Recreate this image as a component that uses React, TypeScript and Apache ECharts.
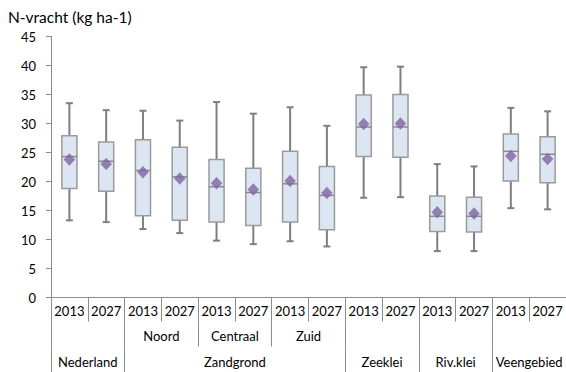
import React, { useEffect, useRef } from "react";
import * as echarts from "echarts";

// Year per column, and the two grouping rows below it
const years = ["2013", "2027", "2013", "2027", "2013", "2027", "2013", "2027", "2013", "2027", "2013", "2027", "2013", "2027"];
const subRegions = ["", "Noord", "Centraal", "Zuid", "", "", ""];
const regions = ["Nederland", "", "Zandgrond", "", "Zeeklei", "Riv.klei", "Veengebied"];
// indices in the 7-slot row whose left edge starts a new region
const regionStarts = [0, 1, 4, 5, 6];

// N-load statistics (kg ha-1) per column
const minVals = [13.3, 13.0, 11.8, 11.1, 9.8, 9.2, 9.7, 8.8, 17.2, 17.3, 8.0, 8.0, 15.4, 15.2];
const q1Vals = [18.8, 18.3, 14.1, 13.3, 13.0, 12.4, 13.0, 11.7, 24.3, 24.2, 11.4, 11.3, 20.1, 19.8];
const medianVals = [24.3, 23.5, 21.9, 20.8, 19.1, 18.1, 19.6, 17.6, 29.4, 29.4, 14.0, 14.0, 25.2, 24.7];
const q3Vals = [27.9, 26.8, 27.2, 25.9, 23.8, 22.3, 25.2, 22.6, 34.9, 35.0, 17.5, 17.3, 28.2, 27.7];
const maxVals = [33.5, 32.3, 32.2, 30.5, 33.7, 31.7, 32.8, 29.6, 39.7, 39.8, 23.0, 22.6, 32.7, 32.1];
const meanVals = [23.8, 23.0, 21.6, 20.5, 19.7, 18.6, 20.1, 18.0, 29.9, 30.0, 14.7, 14.5, 24.4, 23.9];

const FONT = "Lato, 'Open Sans', sans-serif";
const AXIS_GRAY = "#8c8c8c";

export default function App() {
  const ref = useRef<HTMLDivElement>(null);

  useEffect(() => {
    if (!ref.current) return;
    const chart = echarts.init(ref.current, undefined, { renderer: "svg" });

    const boxData = years.map((_, i) => [i, minVals[i], q1Vals[i], medianVals[i], q3Vals[i], maxVals[i]]);
    const meanData = years.map((_, i) => [i, meanVals[i]]);

    const axisLabelBase = { color: "#000", fontSize: 13, fontFamily: FONT };

    chart.setOption({
      animation: false,
      textStyle: { fontFamily: FONT },
      graphic: [
        {
          type: "text",
          x: 8,
          y: 17,
          style: {
            text: "N-vracht (kg ha-1)",
            fontSize: 15.5,
            fontFamily: FONT,
            fill: "#000",
            verticalAlign: "middle",
          },
        },
      ],
      grid: { left: 51, top: 36.5, width: 515, height: 261 },
      xAxis: [
        {
          type: "category",
          data: years,
          axisLine: { show: true, lineStyle: { color: AXIS_GRAY, width: 1 } },
          axisTick: { show: true, interval: 0, length: 24, lineStyle: { color: AXIS_GRAY } },
          axisLabel: { ...axisLabelBase, interval: 0, margin: 7 },
        },
        {
          type: "category",
          data: subRegions,
          position: "bottom",
          offset: 24,
          axisLine: { show: false },
          axisTick: { show: true, interval: 0, length: 25, lineStyle: { color: AXIS_GRAY } },
          axisLabel: { ...axisLabelBase, interval: 0, margin: 8 },
        },
        {
          type: "category",
          data: regions,
          position: "bottom",
          offset: 49,
          axisLine: { show: false },
          axisTick: {
            show: true,
            length: 30,
            interval: (idx: number) => regionStarts.includes(idx),
            lineStyle: { color: AXIS_GRAY },
          },
          axisLabel: { ...axisLabelBase, interval: 0, margin: 9 },
        },
      ],
      yAxis: {
        type: "value",
        min: 0,
        max: 45,
        interval: 5,
        axisLine: { show: true, lineStyle: { color: AXIS_GRAY, width: 1 } },
        axisTick: { show: true, length: 5, lineStyle: { color: AXIS_GRAY } },
        splitLine: { show: false },
        axisLabel: { ...axisLabelBase, margin: 15 },
      },
      series: [
        {
          type: "custom",
          xAxisIndex: 0,
          data: boxData,
          encode: { x: 0, y: [1, 2, 3, 4, 5] },
          z: 2,
          renderItem: (params: any, api: any) => {
            const x = api.value(0);
            const pMin = api.coord([x, api.value(1)]);
            const pQ1 = api.coord([x, api.value(2)]);
            const pMed = api.coord([x, api.value(3)]);
            const pQ3 = api.coord([x, api.value(4)]);
            const pMax = api.coord([x, api.value(5)]);
            const band = api.size([1, 0])[0];
            const bw = band * 0.41;
            const cap = 7;
            const cx = pMed[0];
            const whisker = { stroke: "#7f7f7f", lineWidth: 2 };
            return {
              type: "group",
              children: [
                { type: "line", shape: { x1: cx, y1: pQ1[1], x2: cx, y2: pMin[1] }, style: whisker },
                { type: "line", shape: { x1: cx, y1: pQ3[1], x2: cx, y2: pMax[1] }, style: whisker },
                { type: "line", shape: { x1: cx - cap / 2, y1: pMin[1], x2: cx + cap / 2, y2: pMin[1] }, style: whisker },
                { type: "line", shape: { x1: cx - cap / 2, y1: pMax[1], x2: cx + cap / 2, y2: pMax[1] }, style: whisker },
                {
                  type: "rect",
                  shape: { x: cx - bw / 2, y: pQ3[1], width: bw, height: pQ1[1] - pQ3[1] },
                  style: { fill: "#dce6f2", stroke: "#9a9a9a", lineWidth: 1.5 },
                },
                {
                  type: "line",
                  shape: { x1: cx - bw / 2, y1: pMed[1], x2: cx + bw / 2, y2: pMed[1] },
                  style: { stroke: "#8a8a8a", lineWidth: 1.5 },
                },
              ],
            };
          },
        },
        {
          type: "scatter",
          xAxisIndex: 0,
          data: meanData,
          symbol: "diamond",
          symbolSize: [11.5, 12.5],
          itemStyle: { color: "#8064a2" },
          z: 3,
        },
      ],
    });

    return () => chart.dispose();
  }, []);

  return (
    <div
      ref={ref}
      style={{ position: "fixed", left: 0, top: 0, width: 566, height: 372, background: "#fff" }}
    />
  );
}
